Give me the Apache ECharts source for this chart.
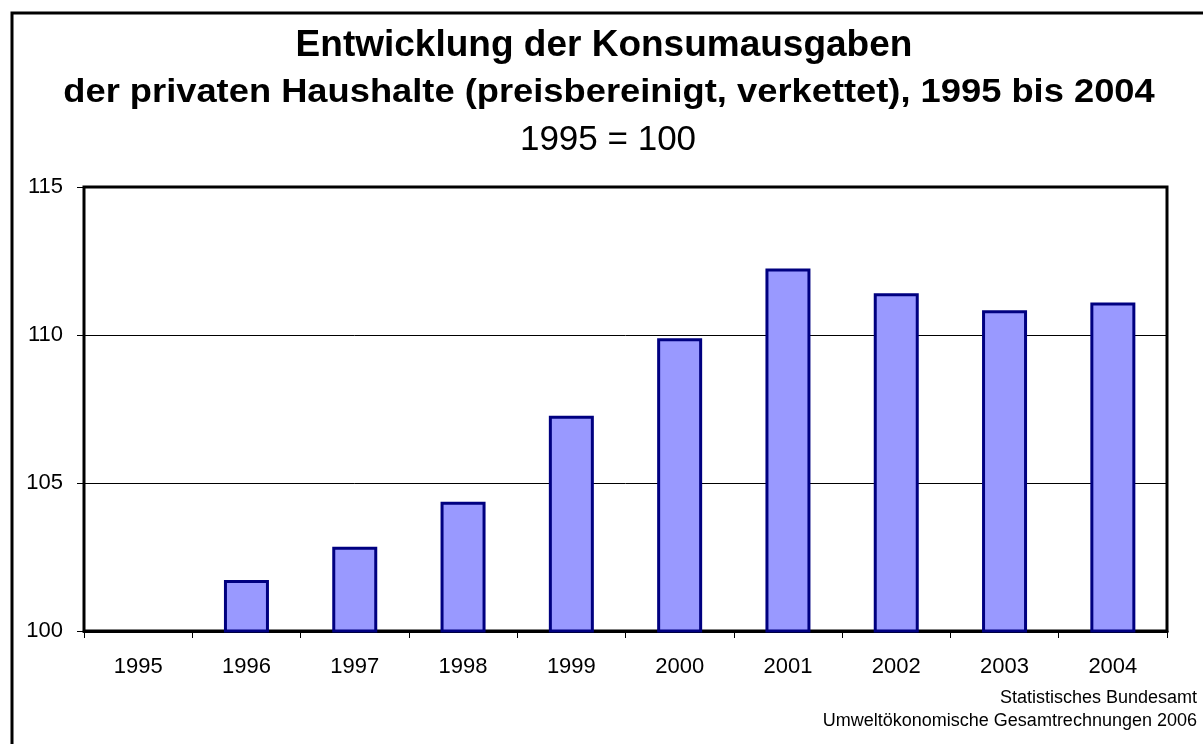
<!DOCTYPE html>
<html>
<head>
<meta charset="utf-8">
<script src="https://cdn.jsdelivr.net/npm/echarts@6/dist/echarts.min.js"></script>
<style>
  html, body { margin: 0; padding: 0; background: #fff; }
  #chart { width: 1203px; height: 744px; }
</style>
</head>
<body>
<div id="chart"></div>
<script>
// Daten: Konsumausgaben der privaten Haushalte, 1995 = 100
var jahre = ['1995', '1996', '1997', '1998', '1999', '2000', '2001', '2002', '2003', '2004'];
var index = [100, 101.72, 102.85, 104.37, 107.27, 109.89, 112.25, 111.41, 110.84, 111.1];
var titelZeilen = ['Entwicklung der Konsumausgaben',
  'der privaten Haushalte (preisbereinigt, verkettet), 1995 bis 2004'];
var untertitel = '1995 = 100';
var quelle = ['Statistisches Bundesamt', 'Umweltökonomische Gesamtrechnungen 2006'];

var font = 'Arial, "Liberation Sans", sans-serif';
var chart = echarts.init(document.getElementById('chart'));

function txt(s, x, y, size, weight, align, sx) {
  return {
    type: 'text', x: x, y: y, scaleX: sx || 1, silent: true,
    style: { text: s, fontFamily: font, fontSize: size, fontWeight: weight,
      fill: '#000', align: align, verticalAlign: 'middle' }
  };
}

var option = {
  animation: false,
  backgroundColor: '#fff',
  graphic: [
    // äußerer Rahmen
    { type: 'rect', silent: true, shape: { x: 12, y: 13, width: 1300, height: 800 },
      style: { fill: null, stroke: '#000', lineWidth: 3 } },
    txt(titelZeilen[0], 604, 46, 37, 'bold', 'center'),
    txt(titelZeilen[1], 609, 93, 33, 'bold', 'center', 1.1),
    txt(untertitel, 608, 140, 35, 'normal', 'center'),
    txt(quelle[0], 1197, 698, 18, 'normal', 'right'),
    txt(quelle[1], 1197, 721, 18, 'normal', 'right')
  ],
  grid: {
    left: 84, top: 187, width: 1083, height: 444,
    show: true, borderColor: '#000', borderWidth: 3,
    containLabel: false
  },
  xAxis: {
    type: 'category',
    data: jahre,
    axisLine: { lineStyle: { color: '#000', width: 3 } },
    axisTick: { show: true, length: 7, lineStyle: { color: '#000', width: 1 } },
    axisLabel: { fontFamily: font, fontSize: 22, color: '#000', margin: 25 }
  },
  yAxis: {
    type: 'value',
    min: 100, max: 115, interval: 5,
    axisLine: { show: false },
    axisTick: { show: true, length: 7, lineStyle: { color: '#000', width: 1 } },
    axisLabel: { fontFamily: font, fontSize: 22, color: '#000', margin: 21 },
    splitLine: { lineStyle: { color: '#000', width: 1 } }
  },
  series: [{
    type: 'bar',
    data: index.map(function (v, i) { return i === 0 ? null : v; }),
    barWidth: 45,
    itemStyle: { color: '#9999FF', borderColor: '#000080', borderWidth: 3 }
  }]
};

chart.setOption(option);
</script>
</body>
</html>
